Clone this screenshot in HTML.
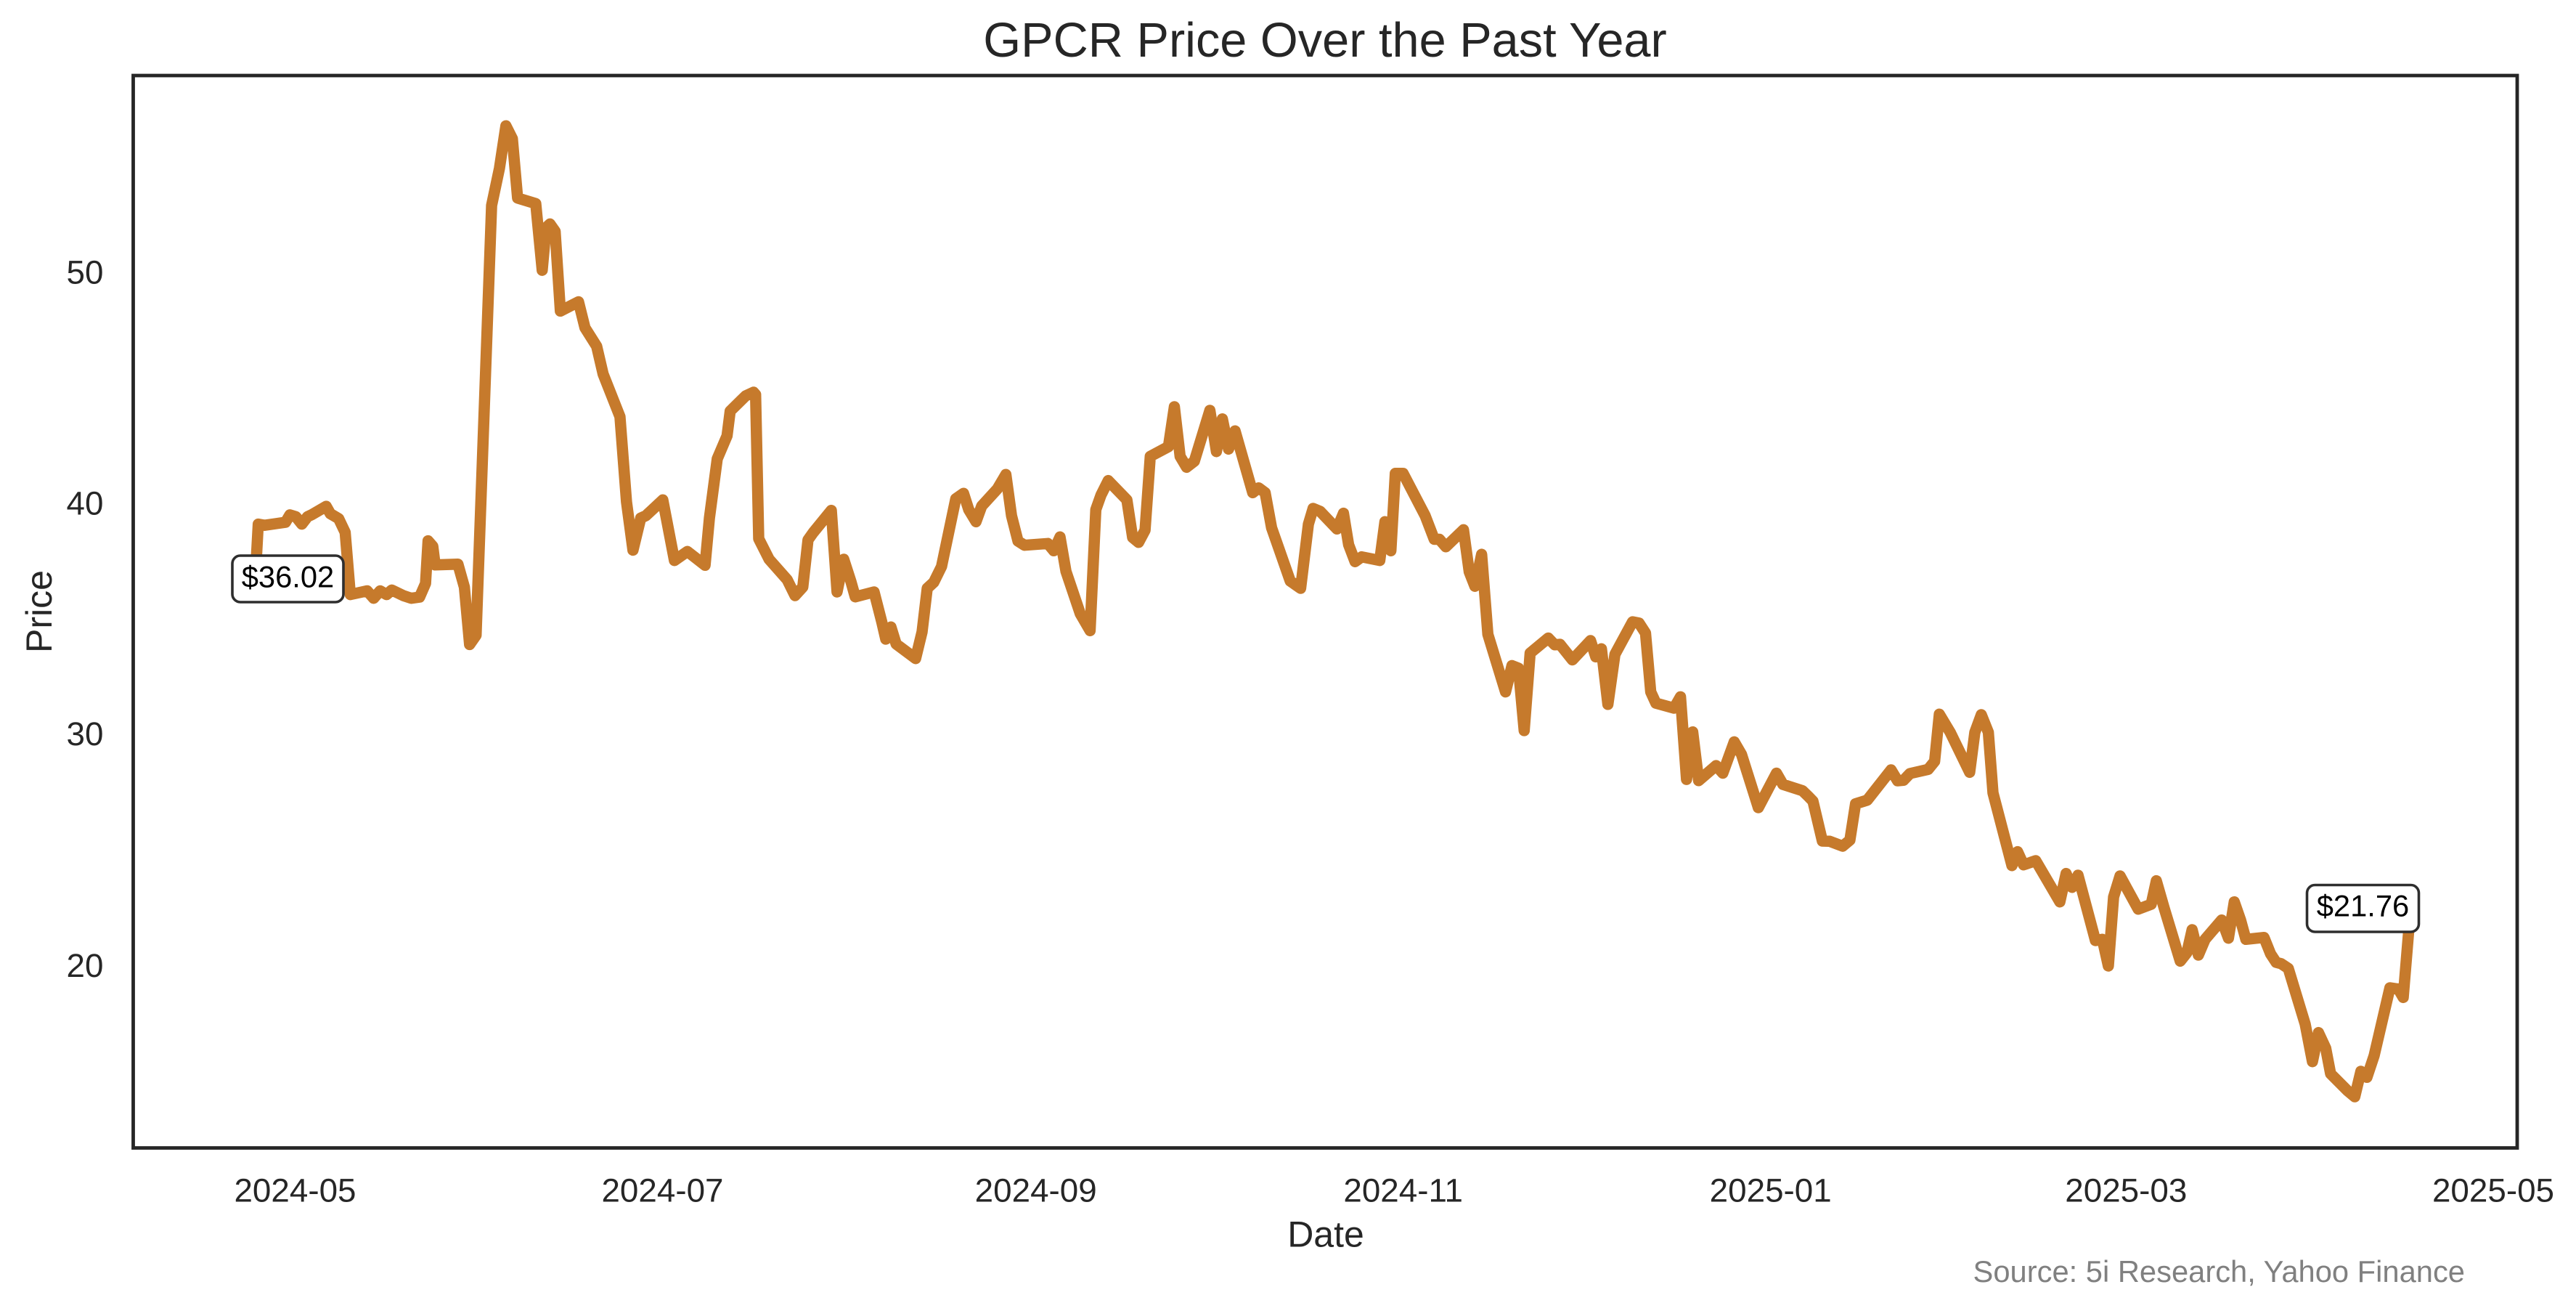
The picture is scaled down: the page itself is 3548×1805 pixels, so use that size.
<!DOCTYPE html>
<html>
<head>
<meta charset="utf-8">
<style>
  html, body { margin: 0; padding: 0; background: #ffffff; }
  svg { display: block; }
  text { font-family: "Liberation Sans", Arial, sans-serif; }
</style>
</head>
<body>
<svg width="3548" height="1805" viewBox="0 0 3548 1805" xmlns="http://www.w3.org/2000/svg">
  <rect x="0" y="0" width="3548" height="1805" fill="#ffffff"/>

  <!-- Title -->
  <text x="1825" y="78" font-size="66.7" fill="#262626" text-anchor="middle">GPCR Price Over the Past Year</text>

  <!-- Price line -->
  <polyline fill="none" stroke="#c67a2c" stroke-width="15.5" stroke-linejoin="round" stroke-linecap="butt"
    points="350.4,818.6 355.7,721.6 364.6,723.2 393.2,719.1 399.3,708.9 407.5,711.4 415.7,721.6 423.6,711.4 428.9,708.9 449.3,697.1 455.0,707.3 466.4,714.0 475.4,732.9 482.5,818.6 505.7,813.5 514.6,823.7 523.6,813.5 532.5,818.6 539.6,812.4 555.7,820.1 566.4,823.7 577.9,822.1 586.1,803.3 589.6,744.6 596.1,752.2 599.3,777.8 630.7,776.7 639.6,808.4 646.8,887.4 655.7,874.7 677.1,282.9 687.9,231.8 696.8,173.2 705.7,191.0 712.9,272.7 737.9,280.3 746.8,372.1 752.1,313.5 757.5,308.4 764.6,318.6 771.8,428.3 796.8,415.5 805.7,451.2 821.8,476.7 830.7,515.0 853.9,573.7 862.9,691.0 871.8,757.5 882.5,713.3 889.6,710.0 912.9,688.3 928.9,771.7 946.8,759.3 971.1,778.3 977.1,713.3 987.9,631.7 1001.4,600.0 1005.7,566.0 1027.1,545.0 1037.9,540.0 1040.7,543.3 1045.0,741.7 1059.3,770.0 1084.3,798.3 1095.0,820.0 1105.7,808.3 1112.9,743.3 1120.0,733.3 1145.0,702.7 1152.9,815.0 1162.1,770.0 1171.8,800.0 1177.9,821.7 1203.9,815.0 1214.6,856.7 1220.0,880.0 1227.1,863.3 1234.3,886.7 1261.1,906.7 1270.0,870.0 1277.1,810.0 1286.1,801.7 1296.8,780.0 1316.4,686.7 1327.1,679.3 1334.3,701.7 1344.3,718.3 1352.1,696.7 1373.6,673.3 1385.4,653.3 1393.2,710.0 1402.1,745.0 1411.1,750.7 1443.2,748.3 1451.4,758.3 1460.0,739.3 1468.2,786.7 1487.9,845.0 1501.4,868.3 1509.3,701.7 1516.4,681.7 1526.4,661.7 1552.1,688.3 1560.0,740.0 1568.2,746.7 1577.1,730.0 1584.3,628.3 1609.3,615.0 1617.5,560.0 1625.4,628.3 1634.3,643.3 1645.0,635.0 1666.4,565.0 1675.4,621.7 1683.6,576.7 1692.1,618.3 1701.1,593.3 1725.4,678.3 1733.6,671.7 1742.5,678.3 1751.4,726.7 1777.1,800.0 1791.4,810.0 1802.1,721.7 1808.6,700.0 1818.2,704.0 1841.4,728.3 1850.4,706.7 1857.5,750.0 1866.4,773.3 1875.4,766.7 1900.4,771.7 1907.5,718.3 1915.7,758.3 1921.8,651.7 1932.5,651.7 1962.9,710.0 1975.4,742.5 1982.5,742.5 1991.4,752.8 2015.7,729.4 2023.6,787.3 2031.4,807.2 2040.7,763.2 2049.3,873.4 2073.6,952.6 2082.5,916.4 2091.4,919.9 2099.3,1005.9 2107.5,899.2 2132.5,878.5 2141.4,887.8 2148.6,887.1 2165.7,908.5 2190.7,882.0 2197.9,904.4 2205.7,893.3 2214.6,969.8 2224.3,900.9 2248.6,856.1 2257.5,857.9 2266.4,871.6 2273.6,952.6 2280.7,968.1 2305.7,975.0 2314.6,959.4 2322.9,1073.1 2331.4,1007.7 2339.6,1074.8 2363.6,1054.1 2372.9,1064.5 2388.6,1021.4 2398.6,1038.6 2421.8,1112 2446.8,1064.5 2455.7,1080.0 2482.5,1088.6 2491.4,1097.2 2497,1103 2510,1158 2520,1158.3 2537.9,1165.0 2547.9,1156.7 2555.7,1106.7 2571.8,1101.7 2604.6,1060.0 2613.6,1075.0 2621.8,1074.3 2630.7,1065.0 2655.7,1059.3 2664.6,1048.3 2671.1,983.3 2686.1,1008.3 2712.9,1063.3 2720.0,1008.3 2728.9,984.0 2738.6,1008.3 2745.0,1091.7 2771.1,1191.7 2778.9,1172.7 2787.1,1190.7 2803.9,1185.0 2837.1,1241.7 2845.7,1202.7 2853.9,1221.7 2862.1,1205.0 2886.1,1295.0 2895.7,1293.3 2903.9,1330.0 2911.1,1235.0 2920.0,1206.0 2945.0,1251.7 2962.9,1245.0 2970.0,1212.7 2980.7,1250.0 3002.9,1323.3 3012.1,1311.7 3019.3,1280.0 3027.9,1315.0 3037.1,1293.3 3060.0,1266.7 3069.3,1291.7 3077.3,1241.7 3086,1266.7 3093.3,1293.3 3118.3,1290.7 3127.3,1313.3 3135,1325 3141.7,1326.7 3151.7,1333.3 3175,1410 3185,1461.7 3193.3,1421.7 3203.3,1443.3 3210,1478.3 3233.3,1501.7 3243.3,1510 3251.7,1475 3260,1483.3 3270,1453.3 3291.7,1360 3303.3,1361.7 3310,1373.3 3318.3,1273"/>

  <!-- Axes frame -->
  <rect x="183.5" y="104" width="3283.5" height="1476.5" fill="none" stroke="#262626" stroke-width="4.8"/>

  <!-- Y tick labels -->
  <g font-size="45.8" fill="#262626" text-anchor="end">
    <text x="142.5" y="390.3">50</text>
    <text x="142.5" y="708.5">40</text>
    <text x="142.5" y="1026.1">30</text>
    <text x="142.5" y="1345.1">20</text>
  </g>

  <!-- X tick labels -->
  <g font-size="45.8" fill="#262626" text-anchor="middle">
    <text x="406.5" y="1654.5">2024-05</text>
    <text x="912.5" y="1654.5">2024-07</text>
    <text x="1426.7" y="1654.5">2024-09</text>
    <text x="1932.7" y="1654.5">2024-11</text>
    <text x="2438.7" y="1654.5">2025-01</text>
    <text x="2928.3" y="1654.5">2025-03</text>
    <text x="3434" y="1654.5">2025-05</text>
  </g>

  <!-- Axis labels -->
  <text x="1826" y="1716.5" font-size="50" fill="#262626" text-anchor="middle">Date</text>
  <text x="0" y="0" font-size="50" fill="#262626" text-anchor="middle" transform="translate(71,842) rotate(-90)">Price</text>

  <!-- Annotations -->
  <rect x="320" y="765" width="153" height="64" rx="11" ry="11" fill="#ffffff" stroke="#2e2e2e" stroke-width="3.6"/>
  <text x="396.5" y="808.5" font-size="41.7" fill="#000000" text-anchor="middle">$36.02</text>

  <rect x="3177.5" y="1218.5" width="154" height="64.5" rx="11" ry="11" fill="#ffffff" stroke="#2e2e2e" stroke-width="3.6"/>
  <text x="3254.5" y="1261.5" font-size="41.7" fill="#000000" text-anchor="middle">$21.76</text>

  <!-- Source -->
  <text x="3395" y="1765" font-size="41.7" fill="#808080" text-anchor="end">Source: 5i Research, Yahoo Finance</text>
</svg>
</body>
</html>
